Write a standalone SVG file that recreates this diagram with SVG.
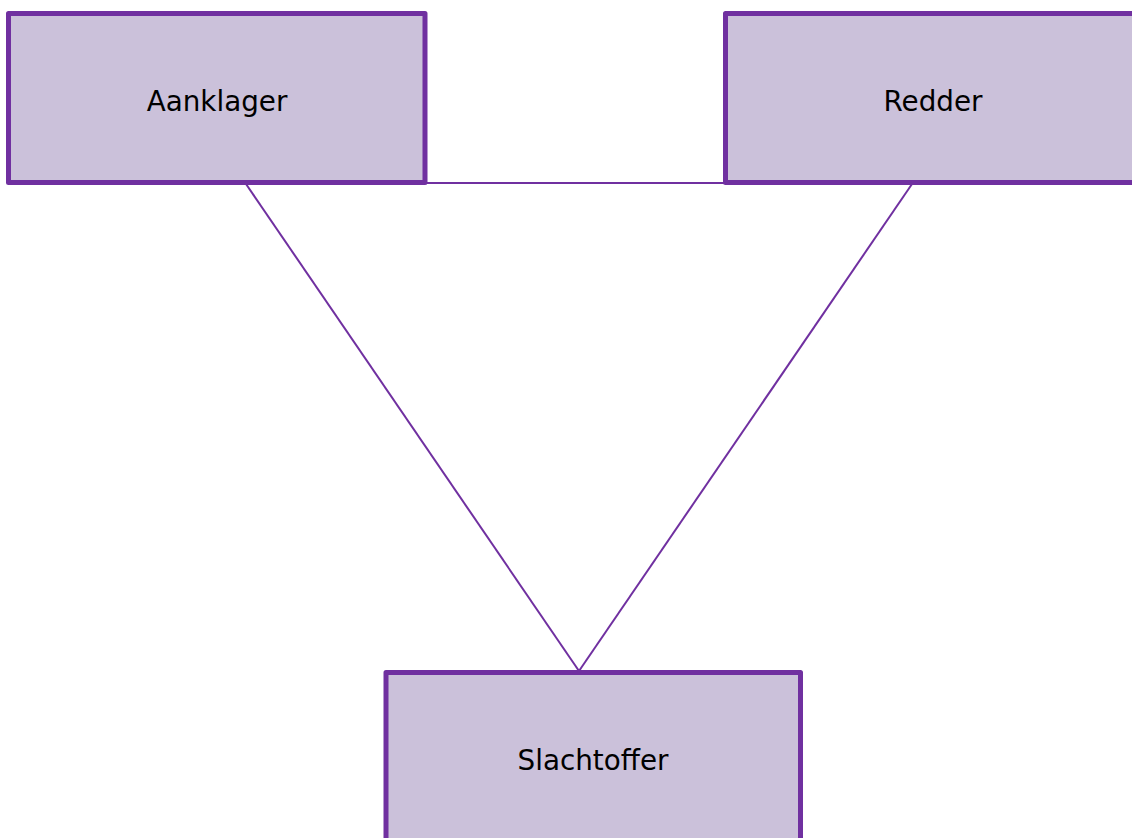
<svg xmlns="http://www.w3.org/2000/svg" width="1132" height="838" viewBox="0 0 1132 838">
<style>
.box{fill:#CBC1DA;stroke:#7030A0;stroke-width:5;stroke-linejoin:round}
.lbl{font-family:"DejaVu Sans",sans-serif;font-size:27.8px;fill:#000;text-anchor:middle}
.con{stroke:#7030A0;stroke-width:2;fill:none}
</style>
<g id="connectors">
<line class="con" x1="425" y1="183" x2="725" y2="183" stroke-width="1.6"/>
<line class="con" x1="246" y1="184" x2="579" y2="671"/>
<line class="con" x1="912" y1="184" x2="579" y2="671"/>
</g>
<g id="aanklager">
<rect class="box" x="8.5" y="13.5" width="416.5" height="169"/>
<text class="lbl" x="217" y="111">Aanklager</text>
</g>
<g id="redder">
<rect class="box" x="725.5" y="13.5" width="416.5" height="169"/>
<text class="lbl" x="933" y="111">Redder</text>
</g>
<g id="slachtoffer">
<rect class="box" x="386" y="672.5" width="414.5" height="169"/>
<text class="lbl" x="593" y="770">Slachtoffer</text>
</g>
</svg>
